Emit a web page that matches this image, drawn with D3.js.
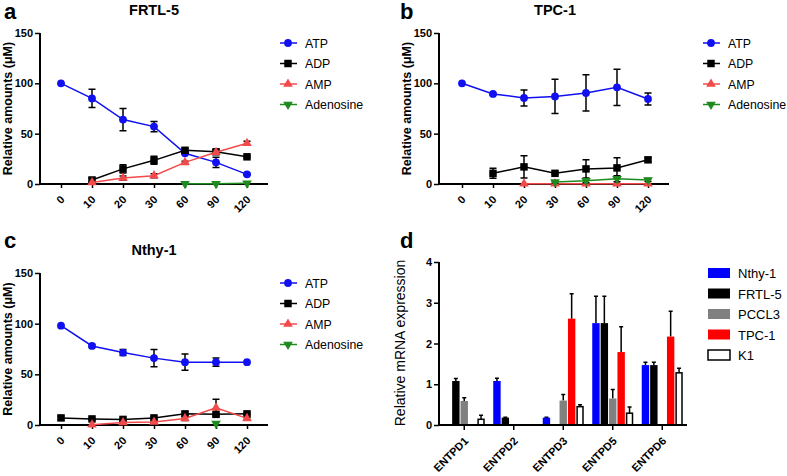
<!DOCTYPE html>
<html>
<head>
<meta charset="utf-8">
<script src="https://cdn.jsdelivr.net/npm/d3@7"></script>
<style>
  body { margin: 0; background: #fff; }
  svg { font-family: "Liberation Sans", Arial, sans-serif; }
</style>
</head>
<body>
<script>
// time points (min) and nucleotide series
var times = ["0", "10", "20", "30", "60", "90", "120"];
var series = ["ATP", "ADP", "AMP", "Adenosine"];
var colors = ["#1010f0", "#000000", "#f24a4a", "#1f8a1f"];
var yTicks = [0, 50, 100, 150];

// FRTL-5 means / SEM (rows follow series order)
var frtlMean = [
  [100, 85, 64, 57, 30.5, 21.5, 9.6],
  [null, 4, 15, 23.5, 33.5, 32, 27],
  [null, 1.5, 6, 8.3, 21.5, 31.5, 40.5],
  [null, null, null, null, 0.3, 0.3, 0.8]
];
var frtlErr = [
  [0, 9, 11, 5, 1, 5, 1],
  [0, 2, 4, 4, 2, 2, 1],
  [0, 1, 2, 2, 1, 1, 2],
  [0, 0, 0, 0, 0.3, 0.3, 0.3]
];

// TPC-1
var tpcMean = [
  [100, 89.5, 85.5, 87, 90.5, 96, 84.5],
  [null, 10.6, 17, 10.6, 15, 16, 24],
  [null, null, 0.3, 0.3, 0.3, 0.3, 0.3],
  [null, null, null, 2, 3.3, 5.3, 4]
];
var tpcErr = [
  [0, 1, 8, 17, 18, 18, 6],
  [0, 5, 11, 1, 9, 10, 2],
  [0, 0, 0.3, 0.3, 0.3, 0.3, 0.3],
  [0, 0, 0, 1, 2, 3, 1.5]
];

// Nthy-1
var nthyMean = [
  [98, 78, 71.5, 66, 62, 62, 62],
  [7, 6, 5.5, 7, 11, 10.5, 11],
  [null, 0.3, 2.5, 3, 6.5, 17, 6.5],
  [null, null, null, null, null, 1.5, null]
];
var nthyErr = [
  [0, 1.5, 3, 8.5, 8, 4, 0.5],
  [2, 1, 1, 1, 2, 1, 1],
  [0, 0.5, 1, 1, 2, 8.5, 1],
  [0, 0, 0, 0, 0, 0.5, 0]
];

// panel d: mRNA expression
var genes = ["ENTPD1", "ENTPD2", "ENTPD3", "ENTPD5", "ENTPD6"];
var cells = ["Nthy-1", "FRTL-5", "PCCL3", "TPC-1", "K1"];
var cellFill = ["#0000ff", "#000000", "#808080", "#ff0000", "#ffffff"];
var mrnaTicks = [0, 1, 2, 3, 4];
// rows = cells, columns = genes
var mrnaMean = [
  [0, 1.08, 0.18, 2.5, 1.47],
  [1.08, 0.18, 0, 2.5, 1.47],
  [0.59, 0, 0.6, 0.65, 0],
  [0, 0, 2.61, 1.79, 2.17],
  [0.14, 0, 0.45, 0.29, 1.28]
];
var mrnaErr = [
  [0, 0.07, 0.01, 0.66, 0.07],
  [0.06, 0.01, 0, 0.66, 0.07],
  [0.08, 0, 0.15, 0.22, 0],
  [0, 0, 0.61, 0.62, 0.62],
  [0.1, 0, 0.05, 0.15, 0.11]
];

var svg = d3.select("body").append("svg")
    .attr("width", 787)
    .attr("height", 476);

function markerPath(i) {
  if (i == 0) return d3.symbol().type(d3.symbolCircle).size(48)();
  if (i == 1) return d3.symbol().type(d3.symbolSquare).size(56)();
  return d3.symbol().type(d3.symbolTriangle).size(40)();
}

function rotLabels(axisG, dx, dy) {
  axisG.selectAll("text")
      .style("font-size", "11px").style("font-weight", "bold")
      .attr("text-anchor", "end")
      .attr("x", 0).attr("y", 0).attr("dy", "0.35em")
      .attr("transform", "translate(" + dx + "," + dy + ") rotate(-45)");
}

var plota_linhas = function(p) {
  var g = svg.append("g");
  var x = d3.scalePoint().domain(times).range([p.x0, p.x0 + 186]);
  var y = d3.scaleLinear().domain([0, 150]).range([p.yb, p.yt]);

  // panel letter and title
  g.append("text").attr("x", p.lx).attr("y", p.ly)
      .style("font-size", "22px").style("font-weight", "bold").text(p.letter);
  g.append("text").attr("x", p.x0 + 93).attr("y", p.ty)
      .attr("text-anchor", "middle")
      .style("font-size", "14.5px").style("font-weight", "bold").text(p.title);

  // y axis
  var ya = g.append("g").attr("transform", "translate(" + p.ax + ",0)")
      .call(d3.axisLeft(y).tickValues(yTicks).tickSize(5).tickPadding(2));
  ya.select(".domain").attr("stroke-width", 2).attr("d", "M0," + p.yt + "V" + (p.yb + 1));
  ya.selectAll(".tick line").attr("stroke-width", 1.5);
  ya.selectAll("text").style("font-size", "11px").style("font-weight", "bold");

  // x axis
  var xa = g.append("g").attr("transform", "translate(0," + p.yb + ")")
      .call(d3.axisBottom(x).tickSize(4));
  xa.select(".domain").attr("stroke-width", 2).attr("d", "M" + (p.ax - 1) + ",0H" + (p.x0 + 207));
  xa.selectAll(".tick line").attr("stroke-width", 1.5);
  rotLabels(xa, 1, 13.5);

  g.append("text")
      .attr("transform", "translate(" + p.labx + "," + ((p.yt + p.yb) / 2) + ") rotate(-90)")
      .attr("text-anchor", "middle")
      .style("font-size", "12.5px").style("font-weight", "bold")
      .text("Relative amounts (\u03bcM)");

  series.forEach(function(s, i) {
    var pts = [];
    p.mean[i].forEach(function(v, j) {
      if (v != null) pts.push({t: times[j], v: v, e: p.err[i][j]});
    });
    var cor = colors[i];

    // error bars
    pts.forEach(function(d) {
      if (d.e <= 0.6) return;
      var cx = x(d.t);
      g.append("path")
          .attr("d", "M" + cx + "," + y(d.v - d.e) + "V" + y(d.v + d.e) +
                "M" + (cx - 3.5) + "," + y(d.v + d.e) + "H" + (cx + 3.5) +
                "M" + (cx - 3.5) + "," + y(d.v - d.e) + "H" + (cx + 3.5))
          .attr("stroke", "#000").attr("stroke-width", 1.5).attr("fill", "none");
    });

    g.append("path")
        .datum(pts)
        .attr("d", d3.line().x(function(d) { return x(d.t); }).y(function(d) { return y(d.v); }))
        .attr("fill", "none").attr("stroke", cor).attr("stroke-width", 1.5);

    g.selectAll(".m" + i)
        .data(pts)
      .enter().append("path")
        .attr("d", markerPath(i))
        .attr("transform", function(d) {
          return "translate(" + x(d.t) + "," + y(d.v) + ")" + (i == 3 ? " rotate(180)" : "");
        })
        .attr("fill", cor);

    // legend
    var ly = p.legy + i * 20.5;
    g.append("line").attr("x1", p.legx - 8).attr("x2", p.legx + 9)
        .attr("y1", ly).attr("y2", ly).attr("stroke", cor).attr("stroke-width", 1.5);
    g.append("path").attr("d", markerPath(i))
        .attr("transform", "translate(" + p.legx + "," + ly + ")" + (i == 3 ? " rotate(180)" : ""))
        .attr("fill", cor);
    g.append("text").attr("x", p.legx + 17).attr("y", ly + 4.5)
        .style("font-size", "12.3px").text(s);
  });
}

plota_linhas({letter: "a", lx: 4, ly: 19, title: "FRTL-5", ty: 15, ax: 40, x0: 61,
  yt: 33, yb: 184, labx: 12, legx: 288, legy: 43, mean: frtlMean, err: frtlErr});
plota_linhas({letter: "b", lx: 400, ly: 19, title: "TPC-1", ty: 15, ax: 439, x0: 462,
  yt: 33, yb: 184, labx: 411, legx: 711, legy: 43, mean: tpcMean, err: tpcErr});
plota_linhas({letter: "c", lx: 4, ly: 248, title: "Nthy-1", ty: 255, ax: 40, x0: 61,
  yt: 273, yb: 425, labx: 12, legx: 288, legy: 283, mean: nthyMean, err: nthyErr});

// panel d: grouped bars
var gd = svg.append("g");
var x0 = d3.scaleBand().domain(genes).range([439.5, 687]);
var x1 = d3.scaleBand().domain(cells).range([-20.5, 20.5]).paddingInner(0.12);
var yd = d3.scaleLinear().domain([0, 4]).range([425, 262]);

gd.append("text").attr("x", 400).attr("y", 248)
    .style("font-size", "22px").style("font-weight", "bold").text("d");

cells.forEach(function(c, i) {
  genes.forEach(function(gname, j) {
    var v = mrnaMean[i][j], e = mrnaErr[i][j];
    if (v <= 0) return;
    var bx = x0(gname) + x0.bandwidth() / 2 + x1(c);
    var cx = bx + x1.bandwidth() / 2;
    if (e > 0) {
      gd.append("path")
          .attr("d", "M" + cx + "," + yd(v) + "V" + yd(v + e) +
                "M" + (cx - 2) + "," + yd(v + e) + "H" + (cx + 2))
          .attr("stroke", "#000").attr("stroke-width", 1.5).attr("fill", "none");
    }
    gd.append("rect")
        .attr("x", bx + (i == 4 ? 0.75 : 0)).attr("y", yd(v))
        .attr("width", x1.bandwidth() - (i == 4 ? 1.5 : 0))
        .attr("height", yd(0) - yd(v))
        .attr("fill", cellFill[i])
        .attr("stroke", i == 4 ? "#000" : "none")
        .attr("stroke-width", 1.5);
  });

  var ly = 273 + i * 20.5;
  gd.append("rect").attr("x", 708).attr("y", ly - 5).attr("width", 22).attr("height", 10)
      .attr("fill", cellFill[i]).attr("stroke", i == 4 ? "#000" : "none").attr("stroke-width", 1.5);
  gd.append("text").attr("x", 738).attr("y", ly + 5)
      .style("font-size", "13px").text(c);
});

var yda = gd.append("g").attr("transform", "translate(439,0)")
    .call(d3.axisLeft(yd).tickValues(mrnaTicks).tickFormat(d3.format("d")).tickSize(5).tickPadding(2));
yda.select(".domain").attr("stroke-width", 2).attr("d", "M0,262V426");
yda.selectAll(".tick line").attr("stroke-width", 1.5);
yda.selectAll("text").style("font-size", "11px").style("font-weight", "bold");

var xda = gd.append("g").attr("transform", "translate(0,425)")
    .call(d3.axisBottom(x0).tickSize(5));
xda.select(".domain").attr("stroke-width", 2).attr("d", "M438,0H687");
xda.selectAll(".tick line").attr("stroke-width", 1.5);
rotLabels(xda, 2, 14);

gd.append("text")
    .attr("transform", "translate(405,343) rotate(-90)")
    .attr("text-anchor", "middle")
    .style("font-size", "14px")
    .text("Relative mRNA expression");
</script>
</body>
</html>
